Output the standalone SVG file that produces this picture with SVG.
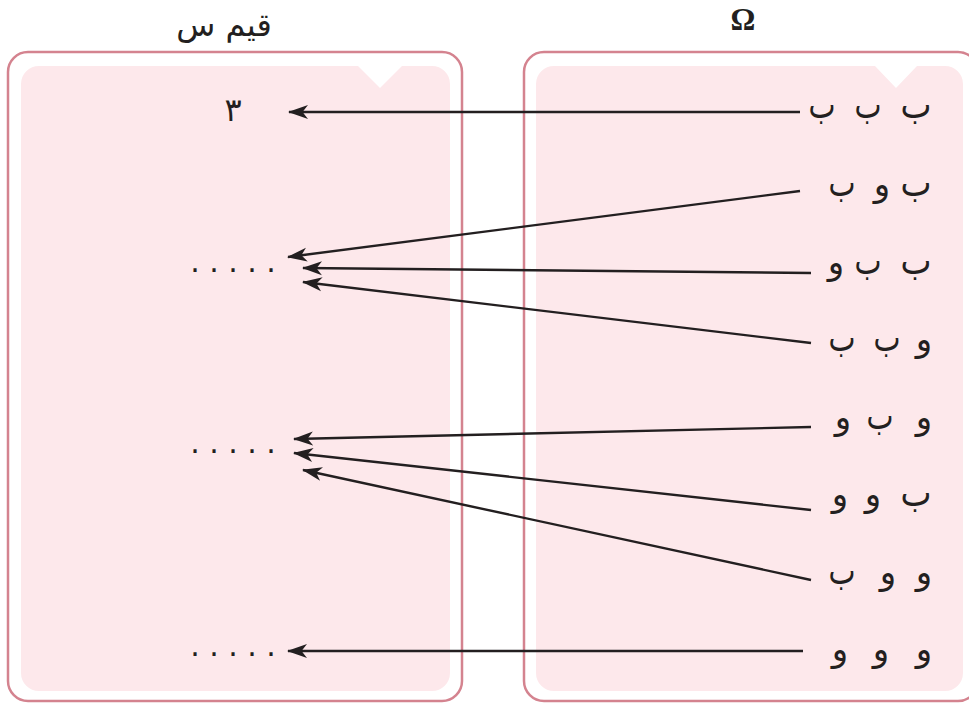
<svg xmlns="http://www.w3.org/2000/svg" width="969" height="703" viewBox="0 0 969 703">
<style>
.outer{fill:#ffffff;stroke:#d4838f;stroke-width:2.5}
.inner{fill:#fde8eb;stroke:none}
.ar{font-family:"DejaVu Sans",sans-serif;font-size:34px;fill:#231f20;text-anchor:middle}
.b{font-size:38px}
.lbl{font-family:"DejaVu Sans",sans-serif;font-size:32px;fill:#231f20;text-anchor:middle}
.om{font-family:"Liberation Serif",serif;font-size:31px;font-weight:bold;fill:#231f20;text-anchor:middle}
.dots{font-family:"DejaVu Sans",sans-serif;font-size:30px;fill:#231f20;text-anchor:middle}
.conn line{stroke:#231f20;stroke-width:2.4;fill:none;marker-end:url(#ah)}
</style>
<defs>
<marker id="ah" markerUnits="userSpaceOnUse" markerWidth="22" markerHeight="16" refX="19" refY="8" orient="auto" viewBox="0 0 22 16">
<path d="M20,8 L0,1 L5.5,8 L0,15 Z" fill="#231f20"/>
</marker>
</defs>
<rect width="969" height="703" fill="#ffffff"/>

<g id="set-values">
<rect class="outer" x="8" y="52" width="454" height="649" rx="20"/>
<path class="inner" d="M39,66 L358,66 L380,88 L402,66 L432,66 A18,18 0 0 1 450,84 L450,673 A18,18 0 0 1 432,691 L39,691 A18,18 0 0 1 21,673 L21,84 A18,18 0 0 1 39,66 Z"/>
<text class="lbl" x="224" y="36">قيم س</text>
</g>

<g id="set-omega">
<rect class="outer" x="524" y="52" width="454" height="649" rx="20"/>
<path class="inner" d="M554,66 L875,66 L896,88 L917,66 L945,66 A18,18 0 0 1 963,84 L963,673 A18,18 0 0 1 945,691 L554,691 A18,18 0 0 1 536,673 L536,84 A18,18 0 0 1 554,66 Z"/>
<text class="om" x="743" y="30">Ω</text>
</g>

<g id="value-3"><text class="lbl" x="233" y="121">٣</text></g>
<g id="value-a"><text class="dots" x="195 214 233 252 271" y="272">.....</text></g>
<g id="value-b"><text class="dots" x="195 214 233 252 271" y="453">.....</text></g>
<g id="value-c"><text class="dots" x="195 214 233 252 271" y="656">.....</text></g>

<g id="o-bbb" class="ar"><text class="b" x="916" y="118" textLength="31" lengthAdjust="spacingAndGlyphs">ب</text><text class="b" x="868" y="118" textLength="27" lengthAdjust="spacingAndGlyphs">ب</text><text class="b" x="822" y="118" textLength="27" lengthAdjust="spacingAndGlyphs">ب</text></g>
<g id="o-bwb" class="ar"><text class="b" x="916" y="196" textLength="31" lengthAdjust="spacingAndGlyphs">ب</text><text x="882" y="196">و</text><text class="b" x="842" y="196" textLength="27" lengthAdjust="spacingAndGlyphs">ب</text></g>
<g id="o-bbw" class="ar"><text class="b" x="916" y="274" textLength="31" lengthAdjust="spacingAndGlyphs">ب</text><text class="b" x="868" y="274" textLength="27" lengthAdjust="spacingAndGlyphs">ب</text><text x="836" y="274">و</text></g>
<g id="o-wbb" class="ar"><text x="924" y="351">و</text><text class="b" x="887" y="351" textLength="27" lengthAdjust="spacingAndGlyphs">ب</text><text class="b" x="842" y="351" textLength="27" lengthAdjust="spacingAndGlyphs">ب</text></g>
<g id="o-wbw" class="ar"><text x="924" y="429">و</text><text class="b" x="880" y="429" textLength="27" lengthAdjust="spacingAndGlyphs">ب</text><text x="843" y="429">و</text></g>
<g id="o-bww" class="ar"><text class="b" x="916" y="506" textLength="31" lengthAdjust="spacingAndGlyphs">ب</text><text x="873" y="506">و</text><text x="840" y="506">و</text></g>
<g id="o-wwb" class="ar"><text x="924" y="584">و</text><text x="888" y="584">و</text><text class="b" x="842" y="584" textLength="27" lengthAdjust="spacingAndGlyphs">ب</text></g>
<g id="o-www" class="ar"><text x="924" y="661">و</text><text x="881" y="661">و</text><text x="840" y="661">و</text></g>

<g id="connectors" class="conn">
<line x1="800" y1="112" x2="289" y2="112"/>
<line x1="800" y1="191" x2="288" y2="257"/>
<line x1="811" y1="273" x2="303" y2="268"/>
<line x1="811" y1="343" x2="303" y2="282"/>
<line x1="811" y1="427" x2="294" y2="439"/>
<line x1="811" y1="510" x2="294" y2="453"/>
<line x1="811" y1="580" x2="303" y2="470"/>
<line x1="803" y1="651" x2="288" y2="651"/>
</g>
</svg>
